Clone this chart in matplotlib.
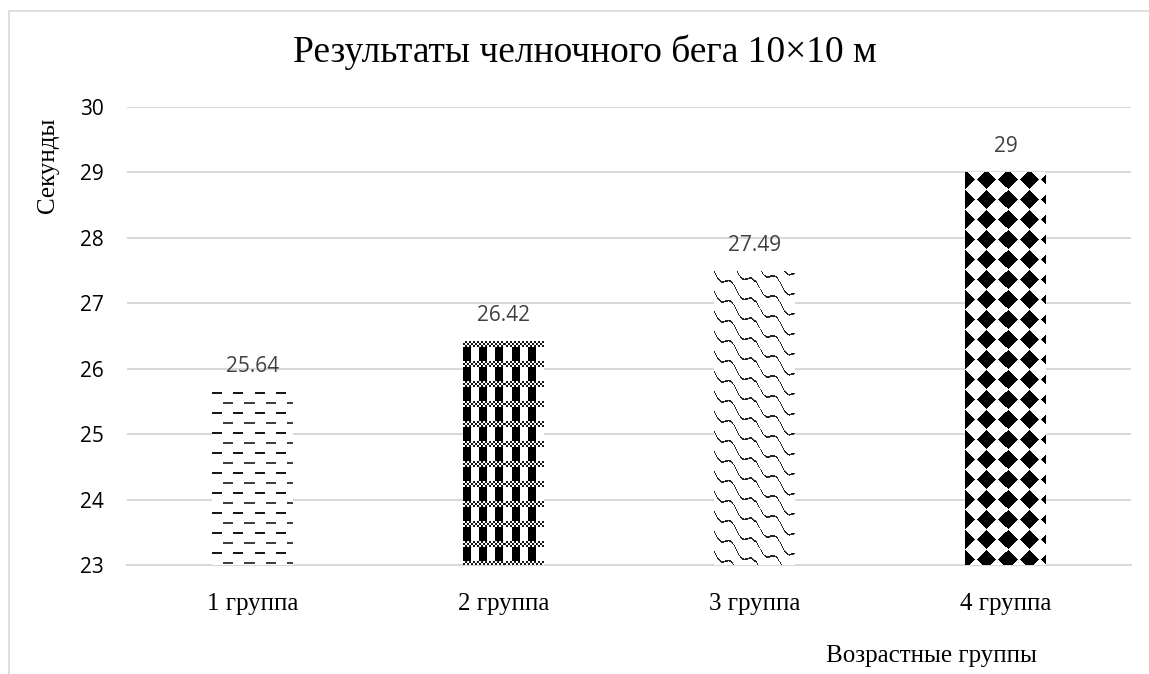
import numpy as np
import matplotlib
matplotlib.use('Agg')
import matplotlib.pyplot as plt
from matplotlib.patches import Rectangle

groups = ['1 группа', '2 группа', '3 группа', '4 группа']
times = [25.64, 26.42, 27.49, 29]
value_labels = ['25.64', '26.42', '27.49', '29']
yticks = [23, 24, 25, 26, 27, 28, 29, 30]

serif = 'Liberation Serif'
sans = 'Open Sans'
grid_col = '#d9d9d9'
ymin, ymax = 23, 30


# bar fill textures, drawn in pixel units (1 = black)
def tex_dashes(xx, yy):
    row = yy // 10
    off = np.where(row % 2 == 0, 0, 10)
    on = (((xx + off) % 21) < 10) & ((yy % 10) < 2)
    val = np.where(row % 2 == 0, 0.9, 0.75)
    return on * val


def tex_checks(xx, yy):
    band = (yy % 20) < 6
    fine = ((xx // 2 + yy // 2) % 2) * 0.9
    blocks = ((xx // 8) % 2 == 0) * 1.0
    return np.where(band, fine, blocks)


def tex_waves(xx, yy):
    v = yy - 0.8 * xx - 4.0 * np.sin(2 * np.pi * xx / 22.0)
    return ((v % 20) < 1.8) * 0.85


def tex_diamonds(xx, yy):
    dx = ((xx + 10.5) % 21) - 10.5
    dy = ((yy + 3) % 20) - 10
    return (np.abs(dx) + np.abs(dy) < 10) * 1.0


textures = [tex_dashes, tex_checks, tex_waves, tex_diamonds]

fig = plt.figure(figsize=(11.49, 6.74), dpi=100)
ax = fig.add_axes([127 / 1149, 1 - 565 / 674, 1004 / 1149, 458 / 674])

x = np.arange(len(groups))
bars = ax.bar(x, times, width=0.32, color='white', zorder=2)
ax.set_xlim(-0.5, len(groups) - 0.5)
ax.set_ylim(ymin, ymax)

for b, tex in zip(bars, textures):
    x0 = b.get_x()
    x1 = x0 + b.get_width()
    top = b.get_height()
    p0 = ax.transData.transform((x0, ymin))
    p1 = ax.transData.transform((x1, top))
    w = max(int(round(p1[0] - p0[0])), 1)
    h = max(int(round(p1[1] - p0[1])), 1)
    yy, xx = np.mgrid[0:h, 0:w]
    arr = tex(xx, yy)
    im = ax.imshow(arr, cmap='gray_r', vmin=0, vmax=1, aspect='auto',
                   interpolation='nearest', extent=(x0, x1, ymin, top),
                   zorder=3)
    im.set_clip_path(b)

ax.set_xlim(-0.5, len(groups) - 0.5)
ax.set_ylim(ymin, ymax)

for xi, t, lab in zip(x, times, value_labels):
    ax.annotate(lab, (xi, t), xytext=(0, 11), textcoords='offset points',
                ha='center', va='bottom', fontsize=15, family=sans, color='#404040')

ax.set_yticks(yticks)
ax.set_yticklabels([str(v) for v in yticks], family=sans, fontsize=15)
ax.set_xticks(x)
ax.set_xticklabels(groups, family=serif, fontsize=18)
ax.tick_params(axis='y', length=0, pad=17, colors='black')
ax.tick_params(axis='x', length=0, pad=20, colors='black')
ax.grid(axis='y', color=grid_col, linewidth=1.5, zorder=0)
ax.set_axisbelow(True)
for s in ['top', 'right', 'left']:
    ax.spines[s].set_visible(False)
ax.spines['bottom'].set_color(grid_col)
ax.spines['bottom'].set_linewidth(1.5)

fig.text(585 / 1149, 1 - 52 / 674, 'Результаты челночного бега 10×10 м',
         ha='center', va='center', family=serif, fontsize=27)
fig.text(48 / 1149, 1 - 165 / 674, 'Секунды', rotation=90,
         ha='center', va='center', family=serif, fontsize=18)
fig.text(931 / 1149, 1 - 656 / 674, 'Возрастные группы',
         ha='center', va='center', family=serif, fontsize=18)

fig.patches.append(Rectangle((8.5 / 1149, -0.1), 1.2, 1.1 - 11.5 / 674,
                             transform=fig.transFigure, fill=False,
                             edgecolor=grid_col, linewidth=1.2))

fig.savefig('out.png', dpi=100)
